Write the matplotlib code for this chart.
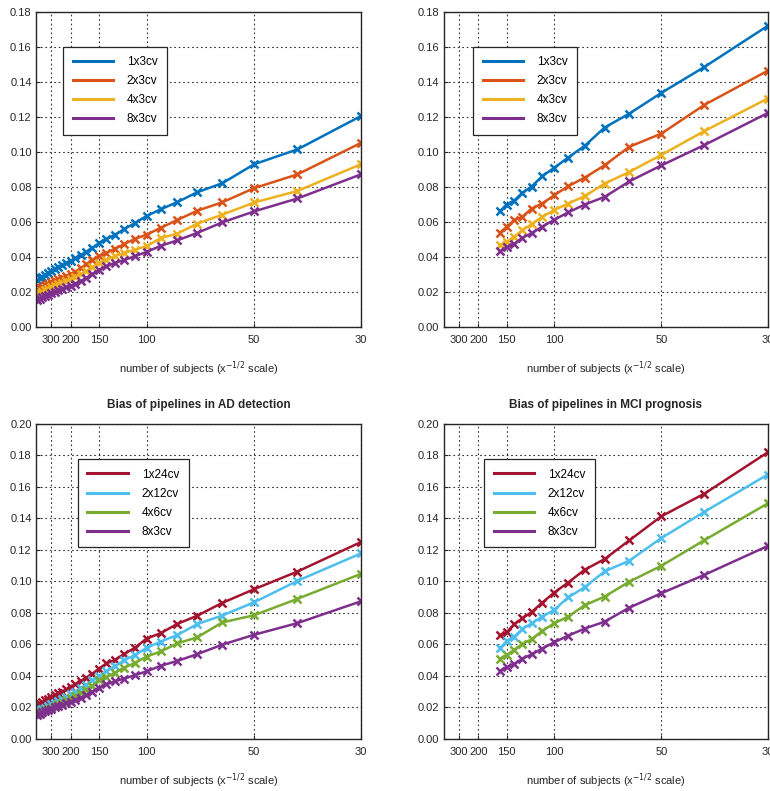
import numpy as np
import matplotlib
matplotlib.use("Agg")
import matplotlib.pyplot as plt
from matplotlib.ticker import FixedLocator, FixedFormatter, NullLocator

plt.rcParams["font.family"] = ["Liberation Sans", "DejaVu Sans"]

# sample sizes (number of subjects)
n_full = [300, 290, 280, 270, 260, 250, 240, 230, 220, 210, 200, 190, 180, 170,
          160, 150, 140, 130, 120, 110, 100, 90, 80, 70, 60, 50, 40, 30]
n_short = [160, 150, 140, 130, 120, 110, 100, 90, 80, 70, 60, 50, 40, 30]

# top-left panel (AD detection)
ad_1x3 = [.0265, .0276, .0285, .0296, .0306, .0318, .0329, .0342, .0352, .0365, .0378, .0393,
          .0409, .0428, .0451, .0478, .0502, .0526, .0558, .0592, .0634, .0672, .0713, .0770,
          .0821, .0930, .1015, .1206]
ad_2x3 = [.0212, .0219, .0228, .0236, .0245, .0254, .0263, .0273, .0281, .0291, .0301, .0314,
          .0335, .0356, .0381, .0405, .0423, .0446, .0472, .0502, .0527, .0566, .0611, .0664,
          .0712, .0793, .0872, .1052]
ad_4x3 = [.0186, .0193, .0201, .0209, .0217, .0225, .0234, .0243, .0252, .0262, .0273, .0286,
          .0300, .0318, .0340, .0365, .0382, .0403, .0421, .0440, .0462, .0507, .0533, .0590,
          .0641, .0711, .0777, .0930]
ad_8x3 = [.0152, .0160, .0168, .0176, .0184, .0192, .0200, .0208, .0216, .0225, .0235, .0247,
          .0260, .0277, .0300, .0325, .0345, .0365, .0381, .0403, .0428, .0463, .0494, .0537,
          .0597, .0660, .0734, .0872]
# bottom-left extras
ad_1x24 = [.0212, .0222, .0232, .0243, .0254, .0265, .0276, .0288, .0300, .0314, .0329, .0346,
           .0365, .0388, .0412, .0445, .0478, .0500, .0538, .0576, .0636, .0670, .0729, .0781,
           .0862, .0949, .1061, .1248]
ad_2x12 = [.0172, .0180, .0189, .0198, .0208, .0218, .0229, .0241, .0254, .0268, .0283, .0300,
           .0320, .0343, .0370, .0398, .0428, .0460, .0498, .0530, .0577, .0617, .0658, .0728,
           .0782, .0866, .1002, .1176]
ad_4x6 = [.0155, .0163, .0171, .0180, .0189, .0198, .0208, .0218, .0230, .0243, .0257, .0272,
          .0290, .0312, .0338, .0372, .0390, .0420, .0452, .0480, .0522, .0554, .0605, .0644,
          .0738, .0784, .0888, .1046]

# right panels (MCI prognosis)
mci_1x3 = [.0661, .0699, .0722, .0766, .0802, .0861, .0909, .0968, .1035, .1140, .1220, .1338,
           .1487, .1722]
mci_2x3 = [.0539, .0571, .0610, .0629, .0676, .0705, .0752, .0804, .0853, .0924, .1030, .1105,
           .1270, .1465]
mci_4x3 = [.0467, .0486, .0514, .0552, .0587, .0629, .0667, .0705, .0747, .0819, .0886, .0983,
           .1120, .1306]
mci_8x3 = [.0431, .0455, .0473, .0509, .0535, .0572, .0612, .0654, .0699, .0743, .0832, .0923,
           .1040, .1223]
mci_1x24 = [.0656, .0675, .0726, .0764, .0804, .0863, .0927, .0991, .1072, .1140, .1259, .1411,
            .1555, .1817]
mci_2x12 = [.0574, .0620, .0648, .0696, .0732, .0775, .0817, .0897, .0961, .1062, .1130, .1273,
            .1440, .1676]
mci_4x6 = [.0508, .0531, .0563, .0601, .0631, .0684, .0732, .0775, .0847, .0902, .0997, .1097,
           .1260, .1493]

tick_pos = [250, 200, 150, 100, 50, 30]
tick_lab = ["300", "200", "150", "100", "50", "30"]

C_BLUE, C_ORANGE, C_YELLOW, C_PURPLE = "#0072BD", "#D95319", "#EDB120", "#7E2F8E"
C_RED, C_CYAN, C_GREEN = "#A2142F", "#4DBEEE", "#77AC30"
EDGE = "#262626"


# x axis is n^(-1/2); negated so the transform is increasing, limits reversed
def fwd(x):
    x = np.asarray(x, dtype=float)
    with np.errstate(divide="ignore", invalid="ignore"):
        return -(np.where(x > 0, x, np.nan) ** -0.5)


def inv(u):
    u = np.asarray(u, dtype=float)
    with np.errstate(divide="ignore", invalid="ignore"):
        return np.where(u < 0, -u, np.nan) ** -2.0


def setup(ax, ymax, title=None):
    ax.set_xscale("function", functions=(fwd, inv))
    ax.set_xlim(302, 30)
    ax.set_ylim(0, ymax)
    ax.xaxis.set_major_locator(FixedLocator(tick_pos))
    ax.xaxis.set_major_formatter(FixedFormatter(tick_lab))
    ax.xaxis.set_minor_locator(NullLocator())
    ax.set_yticks(np.arange(0, ymax + 1e-9, 0.02))
    ax.yaxis.set_major_formatter(matplotlib.ticker.FormatStrFormatter("%.2f"))
    ax.set_axisbelow(True)
    ax.grid(True, color="#333333", linestyle=(0, (1.5, 2.5)), lw=0.8)
    ax.tick_params(direction="in", length=3, labelsize=8, colors=EDGE, width=0.8)
    ax.tick_params(axis="x", pad=6)
    for s in ax.spines.values():
        s.set_color(EDGE)
        s.set_linewidth(1.0)
    ax.set_xlabel("number of subjects (x$^{-1/2}$ scale)", fontsize=8, color=EDGE, labelpad=10)
    if title:
        ax.set_title(title, fontsize=8.5, fontweight="bold", color=EDGE, pad=11)


def draw(ax, n, series, labels, colors, legend_box):
    for y, lab, c in zip(series, labels, colors):
        ax.plot(n, y, color=c, lw=1.8, marker="x", ms=5.5, mew=1.8, label=lab)
    handles = [plt.Line2D([], [], color=c, lw=2.2) for c in colors]
    leg = ax.legend(handles, labels, loc="upper left", bbox_to_anchor=legend_box,
                    borderaxespad=0, fontsize=8.5, frameon=True, fancybox=False,
                    handlelength=3.4, handletextpad=1.2, borderpad=0.8,
                    labelspacing=0.6, framealpha=1)
    leg.get_frame().set_edgecolor(EDGE)
    leg.get_frame().set_linewidth(0.9)


fig = plt.figure(figsize=(7.7, 7.91), dpi=100)
ax1 = fig.add_axes([0.0474, 0.587, 0.4214, 0.3975])
ax2 = fig.add_axes([0.577, 0.587, 0.42, 0.3975])
ax3 = fig.add_axes([0.0474, 0.066, 0.4214, 0.3986])
ax4 = fig.add_axes([0.577, 0.066, 0.42, 0.3986])

setup(ax1, 0.18)
setup(ax2, 0.18)
setup(ax3, 0.20, "Bias of pipelines in AD detection")
setup(ax4, 0.20, "Bias of pipelines in MCI prognosis")

labs_top = ["1x3cv", "2x3cv", "4x3cv", "8x3cv"]
cols_top = [C_BLUE, C_ORANGE, C_YELLOW, C_PURPLE]
labs_bot = ["1x24cv", "2x12cv", "4x6cv", "8x3cv"]
cols_bot = [C_RED, C_CYAN, C_GREEN, C_PURPLE]

draw(ax1, n_full, [ad_1x3, ad_2x3, ad_4x3, ad_8x3], labs_top, cols_top, (0.082, 0.891))
draw(ax2, n_short, [mci_1x3, mci_2x3, mci_4x3, mci_8x3], labs_top, cols_top, (0.089, 0.891))
draw(ax3, n_full, [ad_1x24, ad_2x12, ad_4x6, ad_8x3], labs_bot, cols_bot, (0.128, 0.887))
draw(ax4, n_short, [mci_1x24, mci_2x12, mci_4x6, mci_8x3], labs_bot, cols_bot, (0.123, 0.887))

fig.savefig("out.png", dpi=100)
